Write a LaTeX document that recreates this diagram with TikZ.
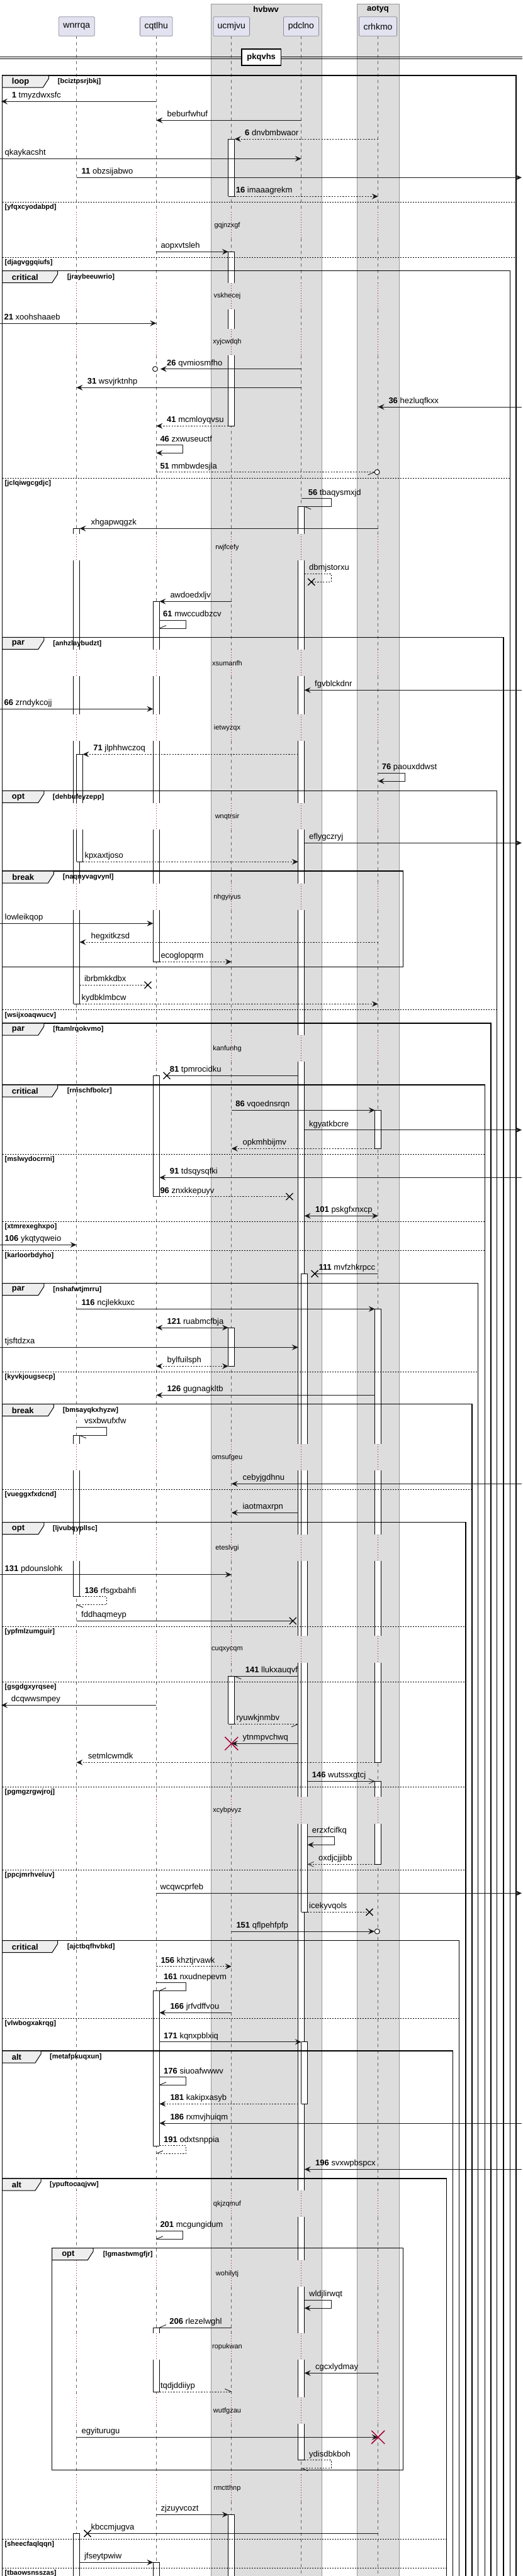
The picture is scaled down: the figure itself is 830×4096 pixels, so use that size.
\documentclass[tikz,border=0pt]{standalone}
\usepackage{fontspec}
\setmainfont{Liberation Sans}
\usetikzlibrary{arrows.meta}
\definecolor{grpf}{RGB}{221,221,221}
\definecolor{grpb}{RGB}{150,150,150}
\definecolor{pfill}{RGB}{226,226,240}
\definecolor{pbord}{RGB}{140,140,150}
\definecolor{lifec}{RGB}{100,100,100}
\definecolor{dlyc}{RGB}{168,0,54}
\definecolor{tabf}{RGB}{238,238,238}
\newcounter{mc}
\def\xA{121.5}\def\xB{248.4}\def\xC{367.8}\def\xD{478.7}\def\xE{600.7}\def\xR{829}
\tikzset{
 msg/.style={line width=0.9pt, draw=black!90},
 dmsg/.style={msg, dash pattern=on 2.2pt off 2.2pt},
 ah/.style={-{Stealth[length=10pt,width=9pt,inset=3.8pt]}},
 bh/.style={{Stealth[length=10pt,width=9pt,inset=3.8pt]}-{Stealth[length=10pt,width=9pt,inset=3.8pt]}},
 th/.style={-{Straight Barb[length=9pt,width=8pt,line width=0.7pt]}},
 lbl/.style={anchor=base west, inner sep=0pt, font=\fontsize{13}{15}\selectfont},
 part/.style={draw=pbord, fill=pfill, line width=0.8pt, minimum height=30.6pt, rounded corners=2pt, inner sep=0pt, font=\fontsize{14}{16}\selectfont},
 grpbox/.style={draw=grpb, fill=grpf, line width=0.8pt, inner sep=0pt, anchor=north west},
 grpt/.style={font=\bfseries\fontsize{13}{15}\selectfont, inner sep=0pt},
 divbox/.style={draw=black, fill=white, line width=1.6pt, minimum width=62.9pt, minimum height=26pt, inner sep=0pt, font=\bfseries\fontsize{13}{15}\selectfont},
 lifel/.style={draw=lifec, line width=0.7pt, dash pattern=on 5pt off 5pt},
 dlyl/.style={draw=dlyc, line width=0.8pt, dash pattern=on 1pt off 3pt},
 dlt/.style={font=\fontsize{11}{13}\selectfont, inner sep=0pt},
 frmline/.style={draw=black, line width=1.4pt},
 tabs/.style={draw=black, fill=tabf, line width=1pt},
 tabl/.style={anchor=west, inner sep=0pt, font=\bfseries\fontsize{13}{15}\selectfont},
 grd/.style={anchor=west, inner sep=0pt, font=\bfseries\fontsize{11}{13}\selectfont},
 elsl/.style={draw=black, line width=0.9pt, dash pattern=on 2pt off 2pt},
 actl/.style={draw=black, line width=0.9pt},
}
\newcommand\M[6]{\stepcounter{mc}\draw[#4] (#1,#3) -- (#2,#3);
 \node[lbl] (m\arabic{mc}) at (#5,#3-5.5) {#6};}
\newcommand\SM[8]{\stepcounter{mc}\draw[#6] (#1,#3) -- (#2,#3) -- (#2,#4) -- (#5,#4);
 \node[lbl] (m\arabic{mc}) at (#7,#3-5.5) {#8};}
\newcommand\hb[4]{\draw[msg] (#1,#2) -- ({#1+(#3)*10.5},{#2+(#4)*4.5});}
\newcommand\xm[2]{\draw[line width=1.3pt] (#1-5.5,#2-5.5) -- (#1+5.5,#2+5.5) (#1-5.5,#2+5.5) -- (#1+5.5,#2-5.5);}
\newcommand\rx[2]{\draw[dlyc, line width=1.5pt] (#1-10.5,#2-10.5) -- (#1+10.5,#2+10.5) (#1-10.5,#2+10.5) -- (#1+10.5,#2-10.5);}
\newcommand\cm[2]{\draw[line width=0.9pt, fill=white] (#1,#2) circle (4pt);}
\newcommand\aS[3]{\fill[white] (#1-5,#2) rectangle (#1+5,#3); \draw[actl] (#1-5,#2) -- (#1-5,#3) (#1+5,#2) -- (#1+5,#3);}
\newcommand\aT[2]{\draw[actl] (#1-5,#2) -- (#1+5,#2);}
\newcommand\frm[6]{\draw[frmline] (3.7,4110) -- (3.7,#1) -- (#2,#1) -- (#2,4110);
 \draw[tabs] (3.7,#1) -- (#3,#1) -- (#3,#1+5) -- (#3-9,#1+19) -- (3.7,#1+19) -- cycle;
 \node[tabl] at (18.7,#1+10) {#4};
 \node[grd] at (#5,#1+10) {#6};}
\newcommand\frmc[8]{\draw[frmline] (#1,#2) rectangle (#3,#4);
 \draw[tabs] (#1,#2) -- (#5,#2) -- (#5,#2+5) -- (#5-9,#2+19) -- (#1,#2+19) -- cycle;
 \node[tabl] at (#1+15.5,#2+10) {#6};
 \node[grd] at (#7,#2+10) {#8};}
\newcommand\els[3]{\draw[elsl] (3.7,#1) -- (#2,#1); \node[grd] at (7.5,#1+8.5) {#3};}
\begin{document}
\begin{tikzpicture}[x=1pt,y=-1pt]
\useasboundingbox (0,0) rectangle (830,4096);
\fill[white] (0,0) rectangle (830,4096);
% group boxes
\node[grpbox, minimum width=175.9pt, minimum height=4110pt] (hvbwv) at (334.8,6.3) {};
\node[grpt] (hvbwvt) at (422.7,15) {hvbwv};
\node[grpbox, minimum width=67.7pt, minimum height=4110pt] (aotyq) at (566.6,6.3) {};
\node[grpt] (aotyqt) at (600.5,15) {aotyq};
% lifelines
\foreach \x in {\xA,\xB,\xC,\xD,\xE}{
 \foreach \s/\e in {57.3/336.8, 379.3/449.5, 492/522.5, 565/848.8, 891.3/1032.8, 1075.3/1135.8, 1178.3/1276.8, 1319.3/1404.8, 1447.3/1645.8, 1688.3/2295.8, 2338.3/2439.8, 2482.3/2601.2, 2643.7/2857.2, 2899.7/3482.8, 3525.3/3593.8, 3636.3/3709.8, 3752.3/3811.8, 3854.3/3934.8, 3977.3/4100}
  {\draw[lifel] (\x,\s) -- (\x,\e);}
 \foreach \s/\e in {336.8/379.3, 449.5/492, 522.5/565, 848.8/891.3, 1032.8/1075.3, 1135.8/1178.3, 1276.8/1319.3, 1404.8/1447.3, 1645.8/1688.3, 2295.8/2338.3, 2439.8/2482.3, 2601.2/2643.7, 2857.2/2899.7, 3482.8/3525.3, 3593.8/3636.3, 3709.8/3752.3, 3811.8/3854.3, 3934.8/3977.3}
  {\draw[dlyl] (\x,\s) -- (\x,\e);}
}
% participants
\node[part, minimum width=57pt] (wnrrqa) at (121.8,42) {wnrrqa};
\node[part, minimum width=51.7pt] (cqtlhu) at (248.2,42) {cqtlhu};
\node[part, minimum width=57.6pt] (ucmjvu) at (367.8,42) {ucmjvu};
\node[part, minimum width=56pt] (pdclno) at (478.4,42) {pdclno};
\node[part, minimum width=60.2pt] (crhkmo) at (600.5,42) {crhkmo};
% divider
\draw[line width=1pt] (0,90.3) -- (830,90.3) (0,93) -- (830,93);
\node[divbox] (pkqvhs) at (415.2,91) {pkqvhs};
% delay texts
\foreach \c/\t [count=\i] in {358.3/gqjnzxgf, 471/vskhecej, 544/xyjcwdqh, 870.3/rwjfcefy, 1054.3/xsumanfh, 1157.3/ietwyzqx, 1298.3/wnqtrsir, 1426.3/nhgyiyus, 1667.3/kanfunhg, 2317.3/omsufgeu, 2461.3/eteslvgi, 2622.7/cuqxycqm, 2878.7/xcybpvyz, 3504.3/qkjzqmuf, 3615.3/wohilytj, 3731.3/ropukwan, 3833.3/wutfgzau, 3956.3/rmctthnp}
 {\node[dlt] (dl\i) at (361,\c) {\t};}
% activations: ucmjvu
\aS{\xC}{221}{312.3}\aT{\xC}{221}\aT{\xC}{312.3}
\aS{\xC}{400.3}{449.5}\aT{\xC}{400.3}\aS{\xC}{492}{522.5}\aS{\xC}{565}{677.3}\aT{\xC}{677.3}
\aS{\xC}{2111}{2172.3}\aT{\xC}{2111}\aT{\xC}{2172.3}
\aS{\xC}{2665.3}{2741.3}\aT{\xC}{2665.3}\aT{\xC}{2741.3}
\aS{\xC}{3998.3}{4100}\aT{\xC}{3998.3}
% pdclno
\foreach \s/\e in {805.3/848.8, 891.3/1032.8, 1075.3/1135.8, 1178.3/1276.8, 1319.3/1404.8, 1447.3/1645.8, 1688.3/2295.8, 2338.3/2439.8, 2482.3/2601.2, 2643.7/2857.2, 2899.7/3482.8, 3525.3/3593.8, 3636.3/3709.8, 3752.3/3811.8, 3854.3/3911.7}{\aS{\xD}{\s}{\e}}
\aT{\xD}{805.3}\aT{\xD}{3911.7}
\foreach \s/\e in {2025.3/2295.8, 2338.3/2439.8, 2482.3/2601.2, 2643.7/2857.2, 2899.7/3040.3}{\aS{\xD+5}{\s}{\e}}
\aT{\xD+5}{2025.3}\aT{\xD+5}{3040.3}
\aS{\xD+5}{3246.7}{3345.3}\aT{\xD+5}{3246.7}\aT{\xD+5}{3345.3}
% wnrrqa
\foreach \s/\e in {840.3/848.8, 891.3/1032.8, 1075.3/1135.8, 1178.3/1276.8, 1319.3/1404.8, 1447.3/1596.3}{\aS{\xA}{\s}{\e}}
\aT{\xA}{840.3}\aT{\xA}{1596.3}
\aS{\xA+5}{1199.3}{1276.8}\aS{\xA+5}{1319.3}{1370.3}\aT{\xA+5}{1199.3}\aT{\xA+5}{1370.3}
\aS{\xA}{2282.3}{2295.8}\aS{\xA}{2338.3}{2439.8}\aS{\xA}{2482.3}{2538.7}\aT{\xA}{2282.3}\aT{\xA}{2538.7}
\aS{\xA}{4028.3}{4100}\aT{\xA}{4028.3}
% cqtlhu
\foreach \s/\e in {956.3/1032.8, 1075.3/1135.8, 1178.3/1276.8, 1319.3/1404.8, 1447.3/1529.3}{\aS{\xB}{\s}{\e}}
\aT{\xB}{956.3}\aT{\xB}{1529.3}
\aS{\xB}{1710.3}{1902.7}\aT{\xB}{1710.3}\aT{\xB}{1902.7}
\aS{\xB}{3165.3}{3412}\aT{\xB}{3165.3}\aT{\xB}{3412}
\aS{\xB}{3701}{3709.8}\aS{\xB}{3752.3}{3803}\aT{\xB}{3701}\aT{\xB}{3803}
\aS{\xB}{4074.3}{4100}\aT{\xB}{4074.3}
% crhkmo
\aS{\xE}{1765.3}{1826.3}\aT{\xE}{1765.3}\aT{\xE}{1826.3}
\foreach \s/\e in {2081.3/2295.8, 2338.3/2439.8, 2482.3/2601.2, 2643.7/2802.3}{\aS{\xE}{\s}{\e}}
\aT{\xE}{2081.3}\aT{\xE}{2802.3}
\aS{\xE}{2832.3}{2857.2}\aS{\xE}{2899.7}{2964.3}\aT{\xE}{2832.3}\aT{\xE}{2964.3}
% frames
\frm{120}{820}{77.3}{loop}{91.7}{[bciztpsrjbkj]}
\els{321}{820}{[yfqxcyodabpd]}
\els{409.3}{820}{[djagvggqiufs]}
\frm{430.7}{810.2}{91.7}{critical}{106.6}{[jraybeeuwrio]}
\els{760.3}{810.2}{[jclqiwgcgdjc]}
\frm{1013.3}{800}{69.8}{par}{84.2}{[anhzlaybudzt]}
\frm{1257.3}{789.4}{69.8}{opt}{83.7}{[dehbufeyzepp]}
\els{1605.7}{789.4}{[wsijxoaqwucv]}
\frmc{3.7}{1385}{640.7}{1537.3}{85.3}{break}{99.7}{[naqnyvagvynl]}
\frm{1627}{779.8}{69.8}{par}{84.2}{[ftamlrqokvmo]}
\frm{1725}{770.3}{91.7}{critical}{106.6}{[rnischfbolcr]}
\els{1835.3}{770.3}{[mslwydocrrni]}
\els{1942.3}{770.3}{[xtmrexeghxpo]}
\els{1988.3}{770.3}{[karloorbdyho]}
\frm{2040.7}{759.6}{69.8}{par}{84.2}{[nshafwtjmrru]}
\els{2181.3}{759.6}{[kyvkjougsecp]}
\frm{2232.7}{750}{85.3}{break}{99.7}{[bmsayqkxhyzw]}
\els{2368.3}{750}{[vueggxfxdcnd]}
\frm{2420.7}{739.9}{69.8}{opt}{83.7}{[ljvubqypllsc]}
\els{2586.3}{739.9}{[ypfmlzumguir]}
\els{2674.3}{739.9}{[gsgdgxyrqsee]}
\els{2841.3}{739.9}{[pgmgzrgwjroj]}
\els{2973.3}{739.9}{[ppcjmrhveluv]}
\frm{3085.7}{729.2}{91.7}{critical}{106.6}{[ajctbqfhvbkd]}
\els{3209.3}{729.2}{[vlwbogxakrqg]}
\frm{3261}{719.6}{65}{alt}{78.9}{[metafpkuqxun]}
\frm{3464}{709.5}{65}{alt}{78.9}{[ypuftocaqjvw]}
\els{4037.3}{709.5}{[sheecfaqlqqn]}
\els{4083.3}{709.5}{[tbaowsnsszas]}
\frmc{82.6}{3574.7}{640.7}{3927.3}{148.2}{opt}{163.6}{[lgmastwmgfjr]}
% messages
\M{\xB}{2}{161.3}{msg,ah}{18.7}{\textbf{1} tmyzdwxsfc}
\M{\xD}{\xB}{191.3}{msg,ah}{265.5}{beburfwhuf}
\M{\xE}{\xC+5}{221}{dmsg,ah}{389}{\textbf{6} dnvbmbwaor}
\M{0}{\xD}{252.3}{msg,ah}{7.5}{qkaykacsht}
\M{\xA}{\xR}{282.3}{msg,ah}{129.5}{\textbf{11} obzsijabwo}
\M{\xC+5}{\xE}{312.3}{dmsg,ah}{374.7}{\textbf{16} imaaagrekm}
\M{\xB}{\xC-5}{400.3}{msg,ah}{255.3}{aopxvtsleh}
\M{0}{\xB}{514}{msg,ah}{6.4}{\textbf{21} xoohshaaeb}
\M{\xD}{254.8}{586.7}{msg,ah}{265}{\textbf{26} qvmiosmfho}\cm{246.5}{586.7}
\M{\xD}{\xA}{616.3}{msg,ah}{138.6}{\textbf{31} wsvjrktnhp}
\M{\xR}{\xE}{647}{msg,ah}{617.3}{\textbf{36} hezluqfkxx}
\M{\xC-5}{\xB}{677.3}{dmsg,ah}{265}{\textbf{41} mcmloyqvsu}
\SM{\xB}{290.5}{707.7}{720.3}{\xB}{msg,ah}{254.3}{\textbf{46} zxwuseuctf}
\M{\xB}{595}{750.7}{dmsg}{254.3}{\textbf{51} mmbwdesjla}\hb{595}{750.7}{-1}{1}\cm{599.1}{750.7}
\SM{\xD}{526}{792.7}{805.3}{\xD+5}{msg}{489.7}{\textbf{56} tbaqysmxjd}\hb{\xD+5}{805.3}{1}{1}
\M{\xE}{\xA+5}{840.3}{msg,ah}{144.5}{xhgapwqgzk}
\SM{\xD+5}{526}{912.3}{925.3}{494.7}{dmsg}{491}{dbmjstorxu}\xm{494.7}{925.3}
\M{\xC}{\xB+5}{956.3}{msg,ah}{270.3}{awdoedxljv}
\SM{\xB+5}{295.3}{986.3}{999}{\xB+5}{msg}{259}{\textbf{61} mwccudbzcv}\hb{\xB+5}{999}{1}{-1}
\M{\xR}{\xD+5}{1097.3}{msg,ah}{500}{fgvblckdnr}
\M{0}{\xB-5}{1127.3}{msg,ah}{6.4}{\textbf{66} zrndykcojj}
\M{\xD-5}{\xA+10}{1199.3}{dmsg,ah}{148.2}{\textbf{71} jlphhwczoq}
\SM{\xE}{643}{1229.3}{1242}{\xE}{msg,ah}{606.6}{\textbf{76} paouxddwst}
\M{\xD+5}{\xR}{1340.3}{msg,ah}{491}{eflygczryj}
\M{\xA+10}{\xD-5}{1370.3}{dmsg,ah}{134.3}{kpxaxtjoso}
\M{0}{\xB-5}{1468.3}{msg,ah}{7.5}{lowleikqop}
\M{\xE}{\xA+5}{1498}{dmsg,ah}{144.5}{hegxitkzsd}
\M{\xB+5}{\xC}{1529.3}{dmsg,ah}{255.3}{ecoglopqrm}
\M{\xA+5}{235}{1566.3}{dmsg}{133.8}{ibrbmkkdbx}\xm{235}{1566.3}
\M{\xA+5}{\xE}{1596.3}{dmsg,ah}{129.5}{kydbklmbcw}
\M{\xD-5}{265}{1710.3}{msg}{269.7}{\textbf{81} tpmrocidku}\xm{265}{1710.3}
\M{\xC}{\xE-5}{1765.3}{msg,ah}{374.2}{\textbf{86} vqoednsrqn}
\M{\xD+5}{\xR}{1796.7}{msg,ah}{491}{kgyatkbcre}
\M{\xE-5}{\xC}{1826.3}{dmsg,ah}{385.4}{opkmhbijmv}
\M{\xR}{\xB+5}{1872.3}{msg,ah}{269.7}{\textbf{91} tdsqysqfki}
\M{\xB+5}{460}{1902.7}{dmsg}{254.3}{\textbf{96} znxkkepuyv}\xm{460}{1902.7}
\M{\xD+5}{\xE}{1933.3}{msg,bh}{501}{\textbf{101} pskgfxnxcp}
\M{0}{\xA}{1979.3}{msg,ah}{7.5}{\textbf{106} ykqtyqweio}
\M{\xE}{500}{2025.3}{msg}{506.4}{\textbf{111} mvfzhkrpcc}\xm{500}{2025.3}
\M{\xA}{\xE-5}{2081.3}{msg,ah}{129.5}{\textbf{116} ncjlekkuxc}
\M{\xB}{\xC-5}{2111}{msg,bh}{265.5}{\textbf{121} ruabmcfbja}
\M{0}{\xD-5}{2142.3}{msg,ah}{7.5}{tjsftdzxa}
\M{\xB}{\xC-5}{2172.3}{dmsg,bh}{265.5}{bylfuilsph}
\M{\xE-5}{\xB}{2218.3}{msg,ah}{265.5}{\textbf{126} gugnagkltb}
\SM{\xA}{169.5}{2269.3}{2282.3}{\xA+5}{msg}{133.8}{vsxbwufxfw}\hb{\xA+5}{2282.3}{1}{1}
\M{\xR}{\xC}{2359.3}{msg,ah}{385.4}{cebyjgdhnu}
\M{\xD-5}{\xC}{2405.3}{msg,ah}{385.4}{iaotmaxrpn}
\M{0}{\xC}{2503.7}{msg,ah}{7.5}{\textbf{131} pdounslohk}
\SM{\xA+5}{169.5}{2538.7}{2551.3}{\xA}{dmsg}{134.3}{\textbf{136} rfsgxbahfi}\hb{\xA}{2551.3}{1}{1}
\M{\xA}{465.4}{2577.3}{msg}{129}{fddhaqmeyp}\xm{465.4}{2577.3}
\M{\xD-5}{\xC+5}{2665.3}{msg}{389.7}{\textbf{141} llukxauqvf}\hb{\xC+5}{2665.3}{1}{1}
\M{\xB}{2}{2711.3}{msg,ah}{17.6}{dcqwwsmpey}
\M{\xC+5}{\xD-5}{2741.3}{dmsg}{375.3}{ryuwkjnmbv}\hb{\xD-5}{2741.3}{-1}{1}
\M{\xD-5}{\xC}{2772.3}{msg,ah}{385.4}{ytnmpvchwq}\rx{\xC}{2772.3}
\M{\xE-5}{\xA}{2802.3}{dmsg,ah}{139.7}{setmlcwmdk}
\M{\xD+10}{\xE-5}{2832.3}{msg,th}{495.7}{\textbf{146} wutssxgtcj}
\SM{\xD+10}{531}{2920.3}{2933.3}{\xD+10}{msg,ah}{495.7}{erzxfcifkq}
\M{\xE-5}{\xD+10}{2964.3}{dmsg,th}{505.9}{oxdjcjjibb}
\M{\xB}{\xR}{3010.3}{msg,ah}{254.3}{wcqwcprfeb}
\M{\xD+10}{587}{3040.3}{dmsg}{491}{icekyvqols}\xm{587}{3040.3}
\M{\xC}{595}{3071}{msg,ah}{375.3}{\textbf{151} qflpehfpfp}\cm{599.3}{3071}
\M{\xB}{\xC}{3126.7}{dmsg,ah}{255.3}{\textbf{156} khztjrvawk}
\SM{\xB}{295.3}{3152.7}{3165.3}{\xB+5}{msg}{260}{\textbf{161} nxudnepevm}\hb{\xB+5}{3165.3}{1}{-1}
\M{\xC}{\xB+5}{3200.3}{msg,ah}{270.3}{\textbf{166} jrfvdffvou}
\M{\xB+5}{\xD}{3246.7}{msg,ah}{260}{\textbf{171} kqnxpblxiq}
\SM{\xB+5}{295.3}{3302.7}{3315.3}{\xB+5}{msg}{260}{\textbf{176} siuoafwwwv}\hb{\xB+5}{3315.3}{1}{-1}
\M{\xD-5}{\xB+5}{3345.3}{dmsg,ah}{270.3}{\textbf{181} kakipxasyb}
\M{\xR}{\xB+5}{3376}{msg,ah}{270.3}{\textbf{186} rxmvjhuiqm}
\SM{\xB+5}{295.3}{3411.7}{3424.3}{\xB}{dmsg}{260}{\textbf{191} odxtsnppia}\hb{\xB}{3424.3}{1}{-1}
\M{\xR}{\xD+5}{3449.3}{msg,ah}{501}{\textbf{196} svxwpbspcx}
\SM{\xB}{290.5}{3547.3}{3560.3}{\xB}{msg}{254.3}{\textbf{201} mcgungidum}\hb{\xB}{3560.3}{1}{-1}
\SM{\xD+5}{526}{3657}{3670}{\xD+5}{msg,ah}{491}{wldjlirwqt}
\M{\xC}{\xB+5}{3701}{msg}{269.2}{\textbf{206} rlezelwghl}\hb{\xB+5}{3701}{1}{-1}
\M{\xE}{\xD+5}{3773.3}{msg,ah}{501}{cgcxlydmay}
\M{\xB+5}{\xC}{3803}{dmsg}{254.8}{tqdjddiiyp}\hb{\xC}{3803}{-1}{-1}
\M{\xA}{\xE}{3875.3}{msg,ah}{129.5}{egyiturugu}\rx{\xE}{3875.3}
\SM{\xD+5}{526}{3911.7}{3924.3}{\xD}{dmsg}{491}{ydisdbkboh}\hb{\xD}{3924.3}{1}{1}
\M{\xB}{\xC-5}{3998.3}{msg,ah}{255.3}{zjzuyvcozt}
\M{\xE}{139}{4028.3}{msg}{144.5}{kbccmjugva}\xm{139}{4028.3}
\M{\xA+5}{\xB-5}{4074.3}{msg,ah}{133.8}{jfseytpwiw}
\end{tikzpicture}
\end{document}
